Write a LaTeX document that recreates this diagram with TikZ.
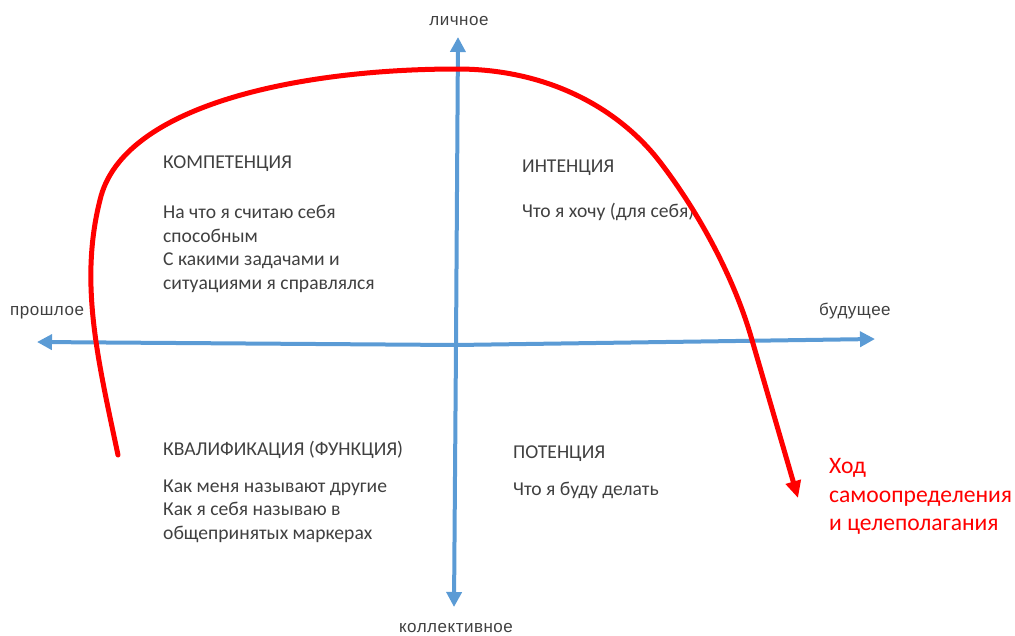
\documentclass[tikz,border=0pt]{standalone}
\usepackage{fontspec}
\setmainfont{Carlito}
\newfontfamily\axfont[LetterSpace=3]{Liberation Sans}
\usetikzlibrary{arrows.meta}
\definecolor{axisblue}{RGB}{91,155,213}
\definecolor{txtgray}{RGB}{64,64,64}
\tikzset{
  axisline/.style={axisblue, line width=4pt, -{Triangle[length=15pt,width=15pt]}},
  axislabel/.style={inner sep=0pt, font=\axfont\fontsize{17}{20}\selectfont, text=txtgray},
  qtext/.style={inner sep=0pt, anchor=base west, font=\fontsize{19.6}{23.7}\selectfont, text=txtgray},
  redtext/.style={inner sep=0pt, anchor=base west, text=red, font=\fontsize{23.6}{29}\selectfont},
  redcurve/.style={red, line width=5pt, line cap=round, line join=round, -{Triangle[length=17pt,width=15pt]}}
}
\begin{document}
\begin{tikzpicture}[x=1pt,y=-1pt]
\useasboundingbox (0,0) rectangle (1015,635);
\coordinate (vb) at (456,345);
\coordinate (vt) at (458,37);
\coordinate (vd) at (454,607);
\coordinate (hl) at (37,342);
\coordinate (hr) at (875,339);
\draw[axisline] (vb) -- (vt);
\draw[axisline] (vb) -- (vd);
\draw[axisline] (vb) -- (hl);
\draw[axisline] (vb) -- (hr);
\node[axislabel, anchor=base] (lich) at (459,25) {личное};
\node[axislabel, anchor=base] (koll) at (456,632) {коллективное};
\node[axislabel, anchor=base west] (prosh) at (10,315) {прошлое};
\node[axislabel, anchor=base west] (bud) at (819,315) {будущее};
\node[qtext] (komp) at (163,168) {КОМПЕТЕНЦИЯ};
\node[qtext] (kompa) at (163,218) {На что я считаю себя};
\node[qtext] (kompb) at (163,242) {способным};
\node[qtext] (kompc) at (163,265) {С какими задачами и};
\node[qtext] (kompd) at (163,289) {ситуациями я справлялся};
\node[qtext] (int) at (522,172) {ИНТЕНЦИЯ};
\node[qtext] (inta) at (522,217) {Что я хочу (для себя)};
\node[qtext] (kval) at (163,455) {КВАЛИФИКАЦИЯ (ФУНКЦИЯ)};
\node[qtext] (kvala) at (163,492) {Как меня называют другие};
\node[qtext] (kvalb) at (163,515) {Как я себя называю в};
\node[qtext] (kvalc) at (163,539) {общепринятых маркерах};
\node[qtext] (pot) at (513,458) {ПОТЕНЦИЯ};
\node[qtext] (pota) at (513,495) {Что я буду делать};
\node[redtext] (hoda) at (829,473) {Ход};
\node[redtext] (hodb) at (829,502) {самоопределения};
\node[redtext] (hodc) at (829,530) {и целеполагания};
\coordinate (c0) at (118,455);
\coordinate (c1) at (100,200);
\coordinate (c2) at (457,69);
\coordinate (c3) at (660,162);
\coordinate (c4) at (752,340);
\coordinate (c5) at (798,498);
\draw[redcurve] (c0) .. controls (98,360) and (79,283) .. (c1)
  .. controls (122,105) and (300,69) .. (c2)
  .. controls (550,69) and (620,110) .. (c3)
  .. controls (700,214) and (735,280) .. (c4)
  -- (c5);
\end{tikzpicture}
\end{document}
